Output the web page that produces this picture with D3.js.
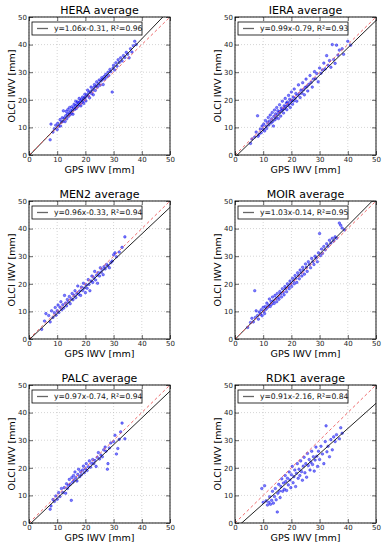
<!DOCTYPE html>
<html>
<head>
<meta charset="utf-8">
<script src="https://cdn.jsdelivr.net/npm/d3@7"></script>
<style>
  body { margin: 0; background: #fff; }
  svg { display: block; font-family: "DejaVu Sans", sans-serif; }
</style>
</head>
<body>
<svg id="chart" width="388" height="550"></svg>
<script>
// station names and regression results
const stations = ['HERA', 'IERA', 'MEN2', 'MOIR', 'PALC', 'RDK1'];
const slopes = [1.06, 0.99, 0.96, 1.03, 0.97, 0.91];
const intercepts = [-0.31, -0.79, -0.33, -0.14, -0.74, -2.16];
const rSquared = [0.96, 0.93, 0.94, 0.95, 0.94, 0.84];
const tickValues = [0, 10, 20, 30, 40, 50];

// [GPS IWV, OLCI IWV] pairs
const heraPoints = [[7.5,5.5],[7.8,11.2],[8.5,8.3],[9,9.5],[9.5,10.8],[10,9.2],[10.2,11.5],[10.5,10.4],[11,12.8],[11.2,10.5],[11.5,11.9],[11.8,13.5],[12,12.2],[12.2,16],[12.5,13.4],[12.8,12.1],[13,14.2],[13.2,15.8],[13.4,13.1],[13.6,14.8],[13.8,16.5],[14,14],[14.2,15.3],[14.4,17.2],[14.6,14.6],[14.8,16],[15,15.2],[15.2,17.5],[15.4,16.3],[15.6,14.8],[15.8,17],[16,18.4],[16.2,16.5],[16.4,17.8],[16.6,19.5],[16.8,16.9],[17,18.2],[17.2,19.2],[17.4,17.6],[17.6,18.9],[17.8,20.5],[18,18.4],[18.2,19.6],[18.4,17.8],[18.6,20.2],[18.8,19.1],[19,21],[19.2,19.8],[19.4,18.7],[19.6,20.6],[19.8,22],[20,20.9],[20.2,19.6],[20.5,21.8],[20.8,23.5],[21,21.4],[21.2,22.6],[21.5,20.7],[21.8,23],[22,24.6],[22.2,22.3],[22.5,23.6],[22.8,21.8],[23,24.5],[23.2,25.5],[23.5,23.4],[23.8,25],[24,26.5],[24.3,24.6],[24.6,25.8],[24.9,27.2],[25.2,25.3],[25.5,26.8],[25.8,28],[26,27.3],[26.3,25.5],[26.6,28.4],[26.9,27.5],[27.2,29.2],[27.5,28.3],[28,30],[28.3,28.8],[28.7,31],[29,30.2],[29.5,22.8],[29.8,31.5],[30,32.5],[30.4,30.8],[30.8,33.4],[31.2,32.2],[31.6,34.5],[32,33.5],[32.5,35.2],[33,34.1],[33.5,36],[34,35.3],[34.5,37.2],[35,36.5],[35.5,35.2],[36,38.5],[36.5,37.3],[37,39.6],[37.5,41.2],[38,40]];

const ieraPoints = [[5.5,4.2],[6,5.8],[7,6.5],[7.5,8.3],[8,14.2],[8.2,6.8],[8.5,7.5],[9,9.4],[9.3,8.1],[9.6,10.5],[10,9.3],[10.2,11.2],[10.5,8.7],[10.8,12.5],[11,10.4],[11.2,9.6],[11.5,11.8],[11.8,13.6],[12,10.9],[12.2,12.3],[12.5,14.5],[12.8,11.6],[13,13.1],[13.2,15.4],[13.4,12.2],[13.6,10.5],[13.8,14],[14,16.3],[14.2,12.8],[14.4,14.9],[14.6,13.5],[14.8,17.2],[15,14.6],[15.2,16],[15.4,13.2],[15.6,15.4],[15.8,18.2],[16,15.8],[16.2,14.1],[16.4,17],[16.6,16.2],[16.8,19.5],[17,16.5],[17.2,15.2],[17.4,17.8],[17.6,16.8],[17.8,20.5],[18,17.6],[18.2,18.8],[18.4,16.4],[18.6,19.2],[18.8,17.9],[19,21.6],[19.2,18.5],[19.4,20.2],[19.6,17.2],[19.8,19.4],[20,22.8],[20.2,19.8],[20.4,18.4],[20.6,21],[20.8,19.6],[21,23.9],[21.3,20.5],[21.6,22.3],[21.9,19.5],[22.2,21.6],[22.5,25.4],[22.8,22.2],[23.1,20.8],[23.4,23.5],[23.7,22.4],[24,26.2],[24.3,23.6],[24.6,21.8],[24.9,24.5],[25.2,27.5],[25.5,24.8],[25.8,23.2],[26.2,25.6],[26.6,28.8],[27,26.3],[27.4,24.6],[27.8,27.5],[28.2,30.2],[28.6,27.6],[29,29.5],[29.5,26.5],[30,31.5],[30.5,29.6],[31,30.8],[31.5,33.3],[32,31.2],[32.5,36],[33,32.5],[33.5,34.2],[34,31.8],[34.5,40],[35,34.6],[35.5,33.2],[36,39.8],[36.5,36.2],[37,38],[38,38.5],[38.5,36.5],[40,41.2],[41,39.8]];

const men2Points = [[4.5,3.5],[5.5,6.5],[6,9.2],[7,8.5],[7.5,6.2],[8,10.2],[8.5,7.8],[9,9.5],[9.3,11.4],[9.6,8.6],[10,10.2],[10.3,12.3],[10.6,9.6],[11,11.5],[11.3,13.5],[11.6,10.6],[12,12.4],[12.3,11.2],[12.6,15.8],[13,13],[13.3,12],[13.6,14.3],[14,13.5],[14.3,15.4],[14.6,12.8],[15,14.6],[15.3,16.5],[15.6,14.2],[16,15.8],[16.3,17.5],[16.6,15],[17,16.6],[17.3,19.2],[17.6,16.2],[18,17.4],[18.3,15.8],[18.6,18.8],[19,17.6],[19.3,20.2],[19.6,18.5],[20,16.8],[20.3,19.6],[20.6,18.4],[21,21.5],[21.3,19.8],[21.6,17.5],[22,21],[22.3,22.8],[22.6,20.5],[23,22.2],[23.3,24.5],[23.6,21.4],[24,23.1],[24.3,20.2],[24.6,24],[25,22.8],[25.3,25.8],[25.6,24.2],[26,25.2],[26.3,23.3],[26.6,26.2],[27,25.4],[27.5,27],[28,26.5],[28.5,25.8],[29,27.6],[29.5,28.2],[30,30.5],[30.5,31.2],[31,29.8],[32,31.5],[33,33.2],[34,37]];

const moirPoints = [[4.5,4.2],[5.5,6],[6,7.5],[6.5,6.2],[7,17.5],[7.2,7.8],[7.5,10.2],[8,8.5],[8.3,7.2],[8.6,9.8],[9,9],[9.3,10.6],[9.6,8.4],[10,11.5],[10.2,10.1],[10.5,9.2],[10.8,11.8],[11,10.8],[11.3,13],[11.6,11.5],[12,12.3],[12.2,14.5],[12.5,11.8],[12.8,13.6],[13,12.6],[13.3,15.2],[13.6,13.8],[13.9,12.9],[14.2,15.8],[14.5,14.6],[14.8,13.5],[15,16.5],[15.3,15.2],[15.6,14.4],[15.9,17.2],[16.2,16.3],[16.5,15.2],[16.8,18.2],[17.1,17],[17.4,16],[17.7,19],[18,18.2],[18.3,17.1],[18.6,20],[18.9,19.1],[19.2,18.2],[19.5,21],[19.8,20],[20.1,19],[20.4,22],[20.7,21],[21,20],[21.3,23],[21.6,22],[21.9,20.5],[22.2,24],[22.5,23],[22.8,21.8],[23.1,25],[23.4,24],[23.7,22.8],[24,26],[24.3,25],[24.6,23.5],[25,27.2],[25.3,26],[25.6,24.5],[26,28],[26.4,27],[26.8,25.8],[27.2,29.2],[27.6,28],[28,27],[28.4,30],[28.8,29.3],[29.2,28],[29.6,31.2],[30,38.2],[30.3,30.2],[30.7,32.6],[31,31],[31.5,33.5],[32,32.3],[32.5,34.5],[33,33.6],[33.5,35.8],[34,34.8],[34.5,36.5],[35,35.5],[35.5,37],[36,36.5],[37,42],[37.5,41.2],[38,40.2],[38.8,39.5]];

const palcPoints = [[7.5,5],[7.8,6.2],[8.5,8.5],[9,7.8],[9.5,9.8],[10,8.6],[10.5,11],[11,9.6],[11.5,12.5],[12,11],[12.5,12.8],[13,10.8],[13.3,14.2],[13.6,12.5],[14,13.6],[14.3,15.8],[14.6,14],[15,8.2],[15.2,16.5],[15.5,14.8],[15.8,17.2],[16,15.6],[16.3,18.5],[16.6,16.4],[17,15.2],[17.3,17.6],[17.6,19.5],[18,16.8],[18.3,18.6],[18.6,17.5],[19,19.2],[19.3,20.6],[19.6,18.2],[20,19.6],[20.3,21.5],[20.6,19],[21,20.4],[21.4,22.5],[21.8,20.2],[22.2,21.6],[22.6,23],[23,21.5],[23.4,22.6],[23.8,20.5],[24.2,23.8],[24.6,25.5],[25,23.2],[25.5,24.6],[26,24],[26.5,26.5],[27,27.5],[27.3,26],[27.8,19.5],[28,21.5],[28.5,27.2],[29,29],[30,29.5],[30.5,31.8],[31,25],[31.5,27],[32,30.3],[32.5,33],[33,36.2],[34,30.5]];

const rdk1Points = [[9.5,12.5],[10,7.5],[10.5,13.5],[11,8],[11.5,6.5],[12,7.5],[12.3,9.5],[12.6,6.8],[13,8.2],[13.3,11.5],[13.6,7.2],[14,9.6],[14.3,12.5],[14.6,8.4],[15,4],[15.2,10.8],[15.5,14],[15.8,11.6],[16,9.2],[16.3,13.2],[16.6,16],[16.9,11.5],[17.2,14.5],[17.5,12.2],[17.8,17.2],[18,15],[18.3,11.8],[18.6,16.2],[18.9,13.8],[19.2,18.5],[19.5,15.6],[19.8,12.8],[20,17.5],[20.3,20.5],[20.6,14.6],[20.9,16.8],[21.2,19.2],[21.5,13.2],[21.8,18],[22.1,21.5],[22.4,16.2],[22.7,19.5],[23,17.2],[23.3,22.5],[23.6,18.6],[23.9,15.5],[24.2,20.6],[24.5,23.8],[24.8,18.2],[25.1,21.5],[25.4,16.6],[25.7,25.2],[26,20.8],[26.3,23],[26.6,19.2],[26.9,22],[27.2,26],[27.5,21.2],[27.8,24],[28.1,18.8],[28.4,22.8],[28.7,27.5],[29,24.2],[29.3,20.5],[29.6,26],[30,23],[30.5,27.8],[31,25],[31.5,21.5],[32,29.5],[32.3,35.2],[32.6,25.8],[33,27.8],[33.5,24],[34,30.2],[34.5,26.5],[35,31.2],[35.5,29.5],[36,32],[37,30.5],[37.5,34.5],[38,32.5]];

const allPoints = [heraPoints, ieraPoints, men2Points, moirPoints, palcPoints, rdk1Points];

const svg = d3.select('#chart');
const plotW = 141;
const plotH = 138;
const colLeft = [29, 235];
const rowTop = [17, 201, 385];

const x = d3.scaleLinear().domain([0, 50]).range([0, plotW]);
const y = d3.scaleLinear().domain([0, 50]).range([plotH, 0]);

stations.forEach((name, i) => {
  const left = colLeft[i % 2];
  const top = rowTop[Math.floor(i / 2)];
  const g = svg.append('g').attr('transform', `translate(${left},${top})`);

  g.append('clipPath').attr('id', 'clip' + i)
    .append('rect').attr('width', plotW).attr('height', plotH);

  // dotted grid
  g.selectAll('.gx').data(tickValues).enter().append('line')
    .attr('x1', d => x(d)).attr('x2', d => x(d))
    .attr('y1', 0).attr('y2', plotH)
    .attr('stroke', '#b8b8b8').attr('stroke-width', 0.6).attr('stroke-dasharray', '1,2');
  g.selectAll('.gy').data(tickValues).enter().append('line')
    .attr('y1', d => y(d)).attr('y2', d => y(d))
    .attr('x1', 0).attr('x2', plotW)
    .attr('stroke', '#b8b8b8').attr('stroke-width', 0.6).attr('stroke-dasharray', '1,2');

  // scatter
  g.append('g').attr('clip-path', `url(#clip${i})`)
    .selectAll('circle').data(allPoints[i]).enter().append('circle')
      .attr('cx', d => x(d[0]))
      .attr('cy', d => y(d[1]))
      .attr('r', 1.3)
      .attr('fill', '#1010ff').attr('fill-opacity', 0.55)
      .attr('stroke', '#0000dd').attr('stroke-opacity', 0.7).attr('stroke-width', 0.5);

  const lines = g.append('g').attr('clip-path', `url(#clip${i})`);
  // regression line
  lines.append('line')
    .attr('x1', x(0)).attr('y1', y(intercepts[i]))
    .attr('x2', x(50)).attr('y2', y(slopes[i] * 50 + intercepts[i]))
    .attr('stroke', '#222').attr('stroke-width', 1);
  // 1:1 line
  lines.append('line')
    .attr('x1', x(0)).attr('y1', y(0))
    .attr('x2', x(50)).attr('y2', y(50))
    .attr('stroke', '#ec5a5c').attr('stroke-width', 0.9).attr('stroke-dasharray', '3,2.5');

  // axes with inward ticks
  const bottom = g.append('g').attr('transform', `translate(0,${plotH})`)
    .call(d3.axisBottom(x).tickValues(tickValues).tickSizeInner(-4).tickSizeOuter(0).tickPadding(2));
  const leftAx = g.append('g')
    .call(d3.axisLeft(y).tickValues(tickValues).tickSizeInner(-4).tickSizeOuter(0).tickPadding(2));
  g.append('g').call(d3.axisTop(x).tickValues(tickValues).tickSizeInner(-4).tickSizeOuter(0).tickFormat(''));
  g.append('g').attr('transform', `translate(${plotW},0)`)
    .call(d3.axisRight(y).tickValues(tickValues).tickSizeInner(-4).tickSizeOuter(0).tickFormat(''));
  g.selectAll('.domain').remove();
  g.selectAll('.tick line').attr('stroke', '#000').attr('stroke-width', 0.6);
  [bottom, leftAx].forEach(a => a.selectAll('text')
    .style('font-size', '7px').style('font-family', '"DejaVu Sans", sans-serif').attr('fill', '#222'));

  // frame
  g.append('rect').attr('width', plotW).attr('height', plotH)
    .attr('fill', 'none').attr('stroke', '#000').attr('stroke-width', 0.9);

  // legend
  const lg = g.append('g').attr('transform', 'translate(3,5)');
  lg.append('rect').attr('width', 110).attr('height', 13)
    .attr('fill', '#fff').attr('stroke', '#000').attr('stroke-width', 0.8);
  lg.append('line').attr('x1', 5).attr('x2', 16).attr('y1', 6.5).attr('y2', 6.5)
    .attr('stroke', '#666').attr('stroke-width', 1.3);
  const sign = intercepts[i] < 0 ? '-' : '+';
  lg.append('text').attr('x', 22).attr('y', 9.3)
    .style('font-size', '7.6px').attr('fill', '#111')
    .text(`y=${slopes[i].toFixed(2)}x${sign}${Math.abs(intercepts[i]).toFixed(2)}, R\u00b2=${rSquared[i].toFixed(2)}`);

  // title and axis labels
  g.append('text').attr('x', plotW / 2).attr('y', -3)
    .attr('text-anchor', 'middle').style('font-size', '11px').text(name + ' average');
  g.append('text').attr('x', plotW / 2).attr('y', plotH + 18)
    .attr('text-anchor', 'middle').style('font-size', '9.5px').text('GPS IWV [mm]');
  g.append('text').attr('transform', `translate(-14,${plotH / 2}) rotate(-90)`)
    .attr('text-anchor', 'middle').style('font-size', '9.5px').text('OLCI IWV [mm]');
});
</script>
</body>
</html>
